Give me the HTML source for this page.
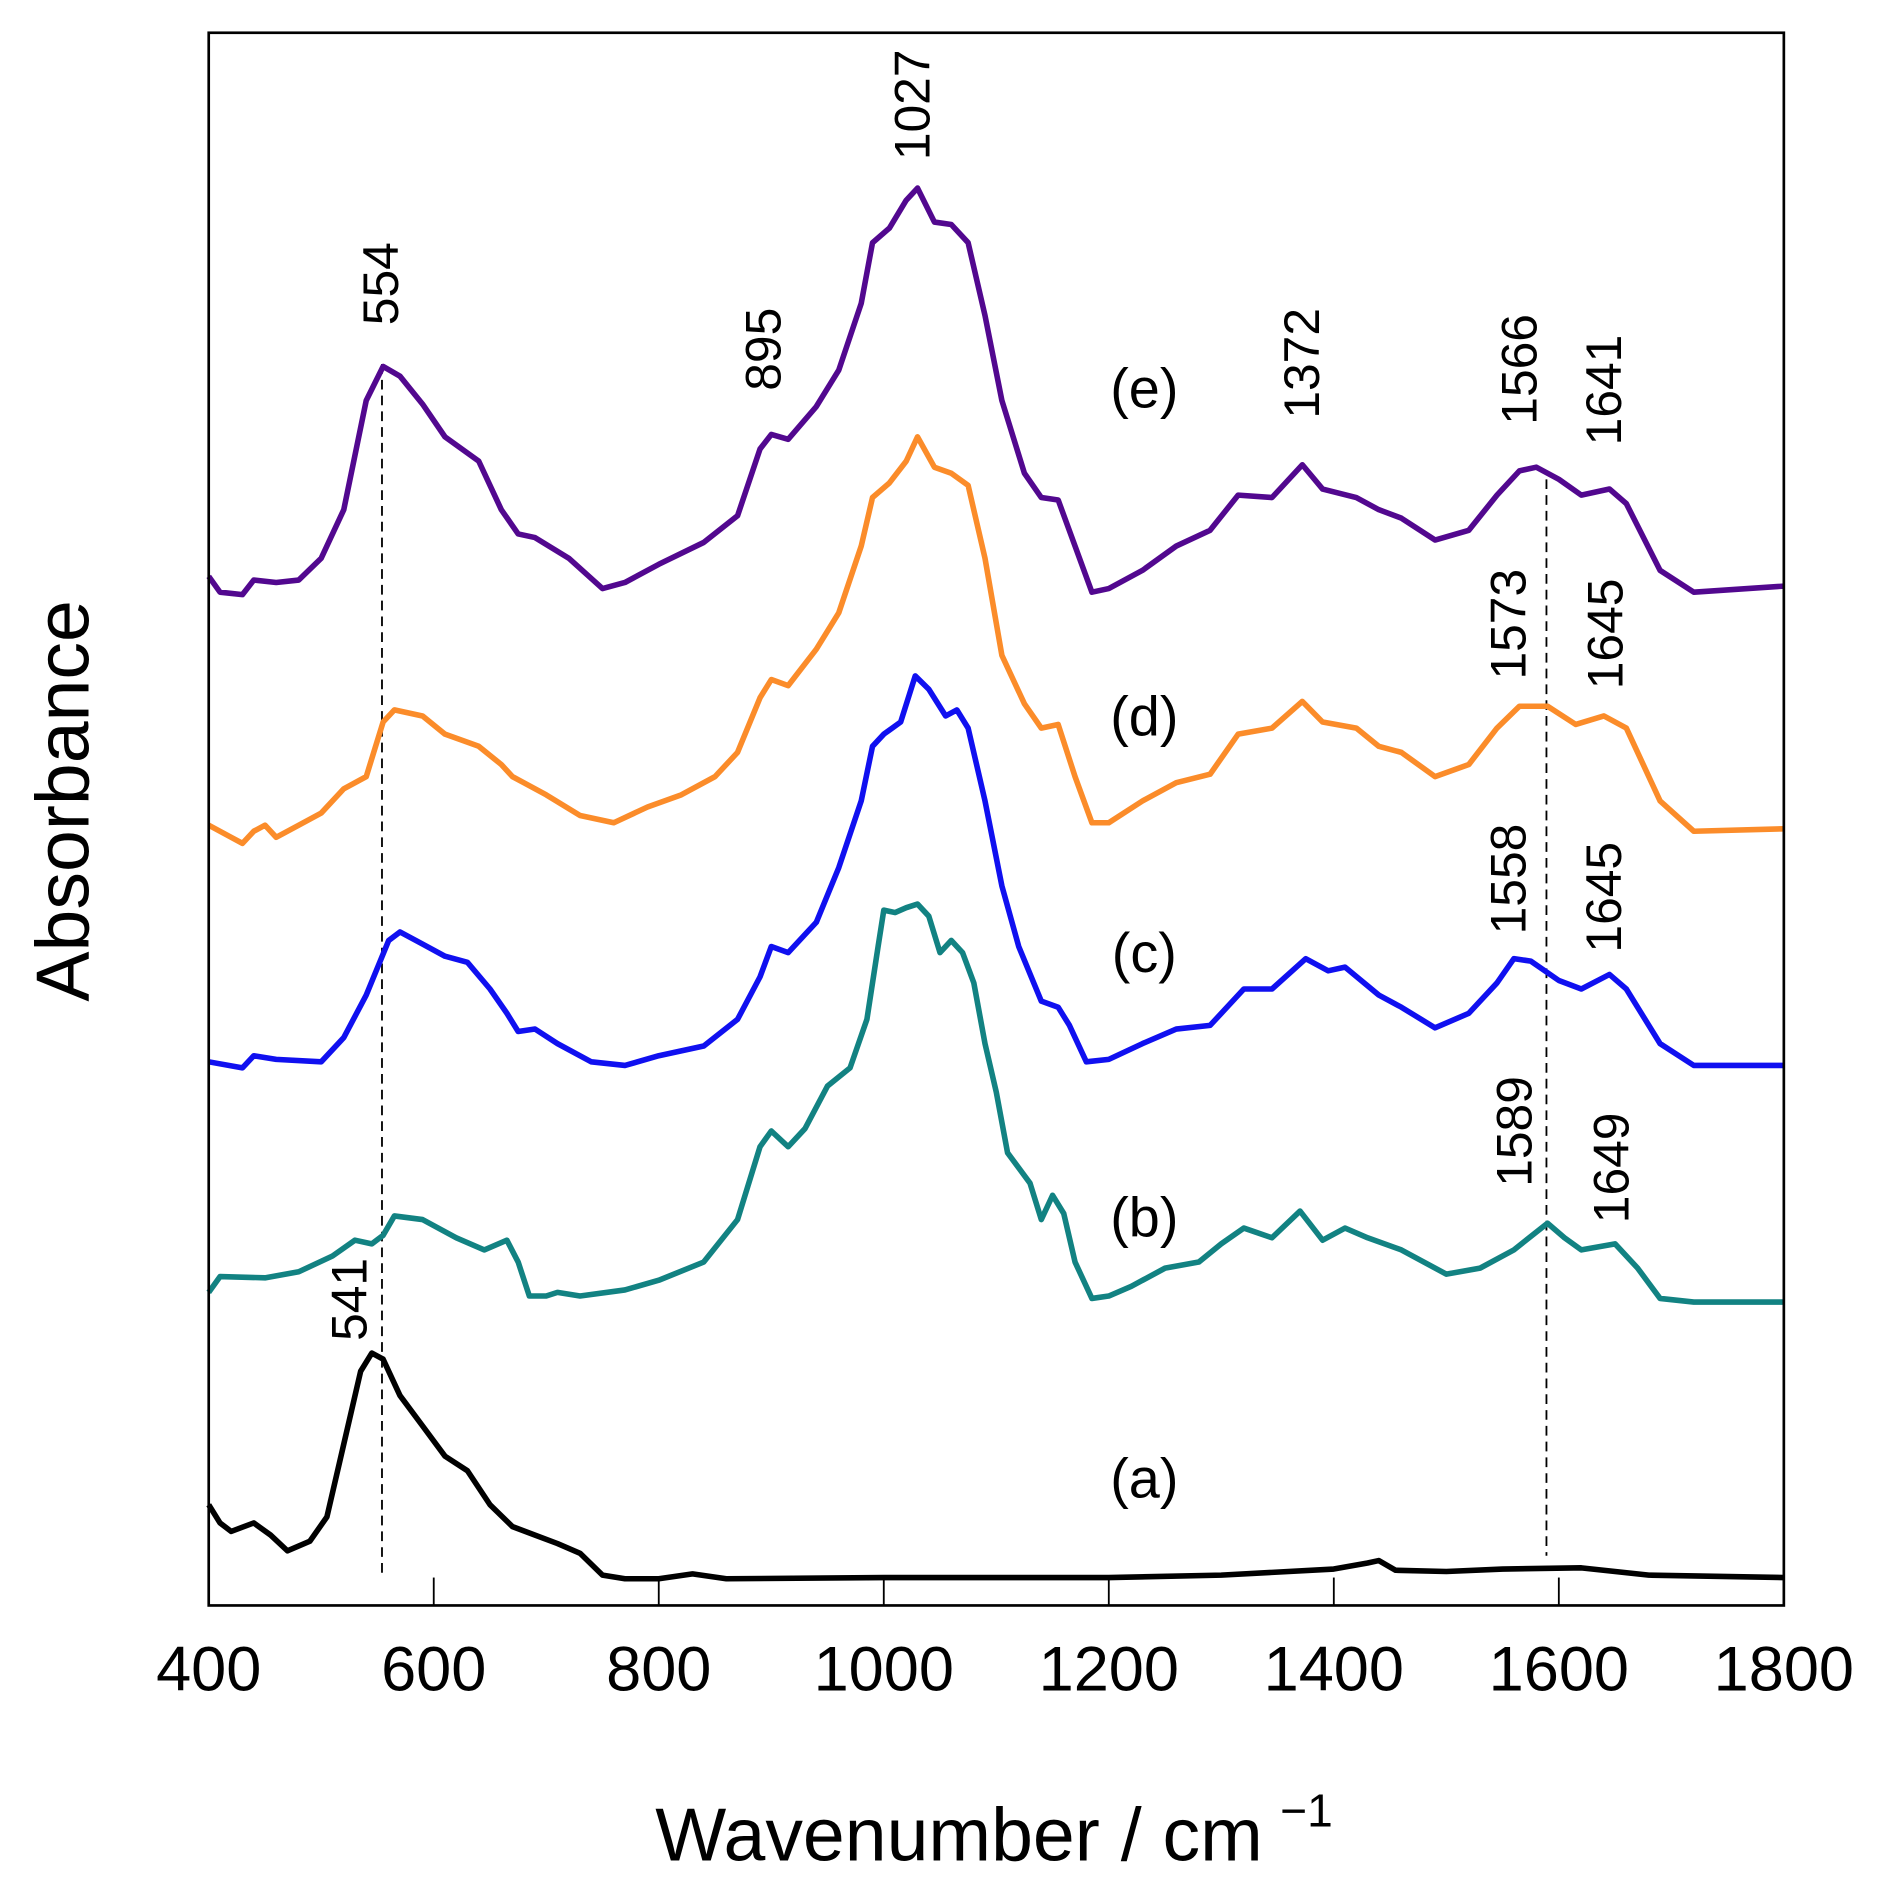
<!DOCTYPE html>
<html><head><meta charset="utf-8"><style>html,body{margin:0;padding:0;background:#fff}svg{display:block}text{font-family:"Liberation Sans",Arial,sans-serif;fill:#000}</style></head>
<body>
<svg id="chart" width="1881" height="1901" viewBox="0 0 1881 1901" xmlns="http://www.w3.org/2000/svg">
<g id="root" transform="scale(1.2135)"></g>
</svg>
<script>
const xTicks=[400,600,800,1000,1200,1400,1600,1800];
const wA=[400,410,420,440,455,470,490,505,520,535,545,555,570,590,610,630,650,670,690,710,730,750,770,800,830,860,1000,1100,1200,1300,1400,1430,1440,1455,1500,1550,1620,1680,1800];
const yA=[1240,1255,1262,1255,1265,1278,1270,1250,1190,1130,1115,1120,1150,1175,1200,1212,1240,1258,1265,1272,1280,1298,1301,1301,1297,1301,1300,1300,1300,1298,1293,1288,1286,1294,1295,1293,1292,1298,1300];
const wB=[400,410,450,480,510,530,545,555,565,590,620,645,665,675,685,700,710,730,770,800,840,870,890,900,915,930,950,970,985,995,1000,1010,1020,1030,1040,1050,1060,1070,1080,1090,1100,1110,1130,1140,1150,1160,1170,1185,1200,1220,1250,1280,1300,1320,1345,1370,1390,1410,1430,1460,1500,1530,1560,1590,1605,1620,1650,1670,1690,1720,1800];
const yB=[1065,1052,1053,1048,1035,1022,1025,1018,1002,1005,1020,1030,1022,1040,1068,1068,1065,1068,1063,1055,1040,1005,945,932,945,930,895,880,840,780,750,752,748,745,755,785,775,785,810,860,900,950,975,1005,985,1000,1040,1070,1068,1060,1045,1040,1025,1012,1020,998,1022,1012,1020,1030,1050,1045,1030,1008,1020,1030,1025,1045,1070,1073,1073];
const wC=[400,430,440,460,500,520,540,560,570,590,610,630,650,665,675,690,710,740,770,800,840,870,890,900,915,940,960,980,990,1000,1015,1028,1040,1055,1065,1075,1090,1105,1120,1140,1155,1165,1180,1200,1230,1260,1290,1320,1345,1375,1395,1410,1440,1460,1490,1520,1545,1560,1575,1600,1620,1645,1660,1690,1720,1800];
const yC=[875,880,870,873,875,855,820,775,768,778,788,793,815,835,850,848,860,875,878,870,862,840,805,780,785,760,715,660,615,605,595,557,568,590,585,600,660,730,780,825,830,845,875,873,860,848,845,815,815,790,800,797,820,830,847,835,810,790,792,808,815,803,815,860,878,878];
const wD=[400,420,430,440,450,460,480,500,520,540,555,565,590,610,640,660,670,680,700,730,760,790,820,850,870,890,900,915,940,960,980,990,1005,1020,1030,1045,1060,1075,1090,1105,1125,1140,1155,1170,1185,1200,1230,1260,1290,1315,1345,1372,1390,1420,1440,1460,1490,1520,1545,1565,1590,1615,1640,1660,1690,1720,1800];
const yD=[680,690,695,685,680,690,680,670,650,640,595,585,590,605,615,630,640,645,655,672,678,665,655,640,620,575,560,565,535,505,450,410,398,380,360,385,390,400,460,540,580,600,597,640,678,678,660,645,638,605,600,578,595,600,615,620,640,630,600,582,582,597,590,600,660,685,683];
const wE=[400,410,430,440,460,480,500,520,540,555,570,590,610,625,640,660,675,690,720,750,770,800,840,870,890,900,915,940,960,980,990,1005,1020,1030,1045,1060,1075,1090,1105,1125,1140,1155,1170,1185,1200,1230,1260,1290,1315,1345,1372,1390,1420,1440,1460,1490,1520,1545,1565,1580,1600,1620,1645,1660,1690,1720,1800];
const yE=[475,488,490,478,480,478,460,420,330,302,310,333,360,370,380,420,440,443,460,485,480,465,447,425,370,358,362,335,305,250,200,188,165,155,183,185,200,260,330,390,410,412,450,488,485,470,450,437,408,410,383,403,410,420,427,445,437,408,388,385,395,408,403,415,470,488,483];
const X=w=>172+(w-400)/1400*1298;
const Y=v=>1323-v*100;
const NS="http://www.w3.org/2000/svg";
const root=document.getElementById('root');
function mk(t,a){const e=document.createElementNS(NS,t);for(const k in a)e.setAttribute(k,a[k]);root.appendChild(e);return e;}
function txt(s,a){const e=mk('text',a);e.textContent=s;return e;}
let d1=mk('line',{x1:X(554),x2:X(554),y1:300,y2:1297,stroke:'#000','stroke-width':1.5,'stroke-dasharray':'8,5'});


let d2=mk('line',{x1:X(1589),x2:X(1589),y1:395,y2:1282,stroke:'#000','stroke-width':1.5,'stroke-dasharray':'8,5'});


const series=[[wA,yA,'#000000','spectrum-a'],[wB,yB,'#128282','spectrum-b'],[wC,yC,'#1010f0','spectrum-c'],[wD,yD,'#fb8c2a','spectrum-d'],[wE,yE,'#52088f','spectrum-e']];
series.forEach(s=>{
 const pts=s[0].map((w,i)=>X(w).toFixed(1)+','+Y((1323-s[1][i])/100).toFixed(1)).join(' ');
 const p=mk('polyline',{points:pts,fill:'none',stroke:s[2],'stroke-width':4.6,'stroke-linejoin':'round'});
 
 
});
let fr=mk('rect',{x:172,y:27,width:1298,height:1296,fill:'none',stroke:'#000','stroke-width':2.2});


xTicks.forEach(t=>{
 const l=mk('line',{x1:X(t),x2:X(t),y1:1323,y2:1300,stroke:'#000','stroke-width':1.5});
 
 
 const tl=txt(String(t),{x:X(t),y:1393,'font-size':52,'text-anchor':'middle'});
 
 
});
let xt=txt('Wavenumber / cm',{x:540,y:1533,'font-size':62});


let sup=txt('−1',{x:1055,y:1505,'font-size':38});


let yt=txt('Absorbance',{x:0,y:0,'font-size':62,'text-anchor':'middle',transform:'translate(73,660) rotate(-90)'});


[['(e)',320],['(d)',590],['(c)',785],['(b)',1003],['(a)',1218]].forEach(l=>{
 const e=txt(l[0],{x:943,y:l[1]+16,'font-size':46,'text-anchor':'middle'});
 
 
});
[['554',328,268],['895',643,322],['1027',766,132],['1372',1087,345],['1566',1266,350],['1641',1336,367],['1573',1257,560],['1645',1337,568],['1558',1257,770],['1645',1336,785],['1589',1262,978],['1649',1342,1008],['541',302,1105]].forEach(p=>{
 const e=txt(p[0],{x:0,y:0,'font-size':41,transform:`translate(${p[1]},${p[2]}) rotate(-90)`});
 
 
});
</script>
</body></html>
